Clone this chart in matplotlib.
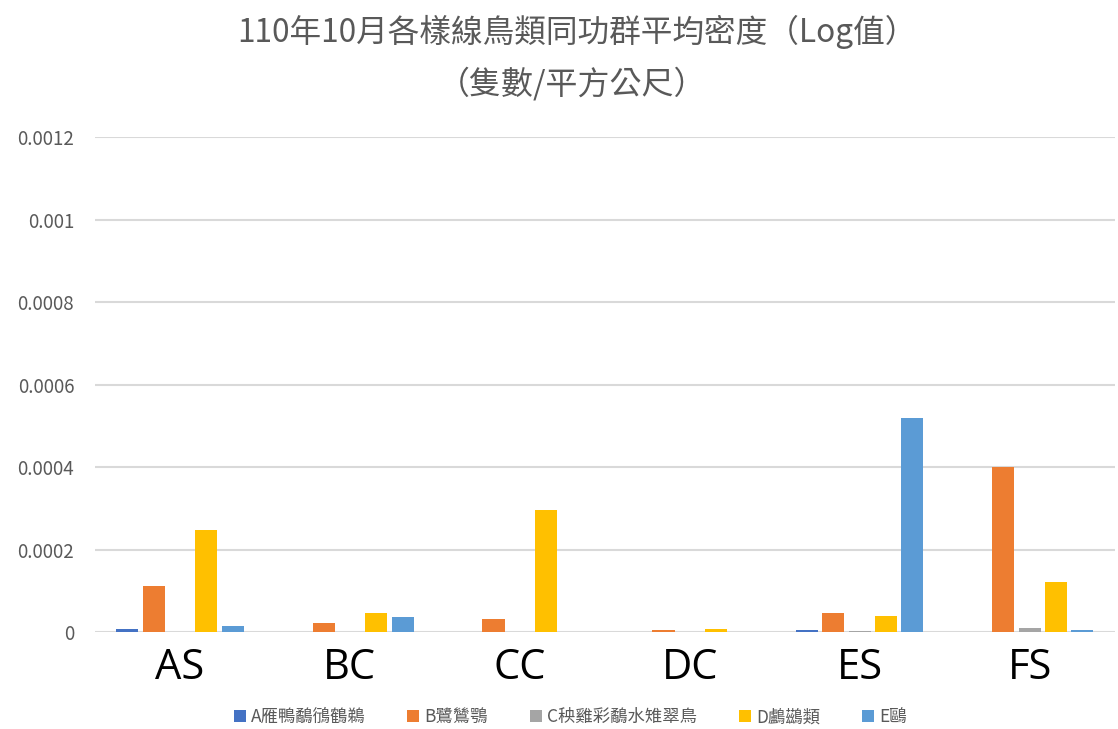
import matplotlib
matplotlib.use("Agg")
import matplotlib.pyplot as plt
import numpy as np

plt.rcParams['font.family'] = ['Noto Sans CJK TC', 'DejaVu Sans']

categories = ["AS", "BC", "CC", "DC", "ES", "FS"]
series_names = ["A雁鴨鷸鴴鶴鵜", "B鷺鷥鶚", "C秧雞彩鷸水雉翠鳥", "D鸕鷀類", "E鷗"]
A_vals = [0.000008, 0.0, 0.0, 0.0, 0.000005, 0.0]
B_vals = [0.000112, 0.000022, 0.000032, 0.000005, 0.000047, 0.000400]
C_vals = [0.0, 0.0, 0.0, 0.0, 0.000003, 0.000010]
D_vals = [0.000247, 0.000046, 0.000296, 0.000008, 0.000039, 0.000121]
E_vals = [0.000015, 0.000036, 0.0, 0.0, 0.000519, 0.000005]
colors = ["#4472C4", "#ED7D31", "#A5A5A5", "#FFC000", "#5B9BD5"]
yticks = [0, 0.0002, 0.0004, 0.0006, 0.0008, 0.001, 0.0012]
ytick_labels = ["0", "0.0002", "0.0004", "0.0006", "0.0008", "0.001", "0.0012"]

fig = plt.figure(figsize=(11.18, 7.29), dpi=100)
ax = fig.add_axes([0.085, 0.133, 0.912, 0.679])

x = np.arange(len(categories))
slot = 0.155
width = 0.13
all_vals = [A_vals, B_vals, C_vals, D_vals, E_vals]
for i, (vals, name, c) in enumerate(zip(all_vals, series_names, colors)):
    ax.bar(x + (i - 2) * slot, vals, width=width, color=c, label=name, zorder=3)

ax.set_xlim(-0.5, len(categories) - 0.5)
ax.set_ylim(0, 0.0012)
ax.set_yticks(yticks)
ax.set_yticklabels(ytick_labels, color="#595959", fontsize=13.5)
ax.set_xticks(x)
ax.set_xticklabels(categories, fontsize=30, color="black", family=['Open Sans', 'DejaVu Sans'])
ax.tick_params(axis='both', length=0)
ax.tick_params(axis='y', pad=15)
ax.tick_params(axis='x', pad=11)
ax.grid(axis='y', color="#D9D9D9", linewidth=1.5, zorder=0)
for s in ax.spines.values():
    s.set_visible(False)

fig.text(0.516, 0.956, "110年10月各樣線鳥類同功群平均密度（Log值）", ha='center', va='center',
         fontsize=22.8, color="#595959")
fig.text(0.512, 0.885, "（隻數/平方公尺）", ha='center', va='center',
         fontsize=23, color="#595959")

leg = fig.legend(loc='center', bbox_to_anchor=(0.51, 0.016), ncol=5, frameon=False,
                 fontsize=12.5, handlelength=0.7, handleheight=0.7, handletextpad=0.3,
                 columnspacing=2.4)
for t in leg.get_texts():
    t.set_color("#595959")

fig.savefig("out.png", dpi=100)
